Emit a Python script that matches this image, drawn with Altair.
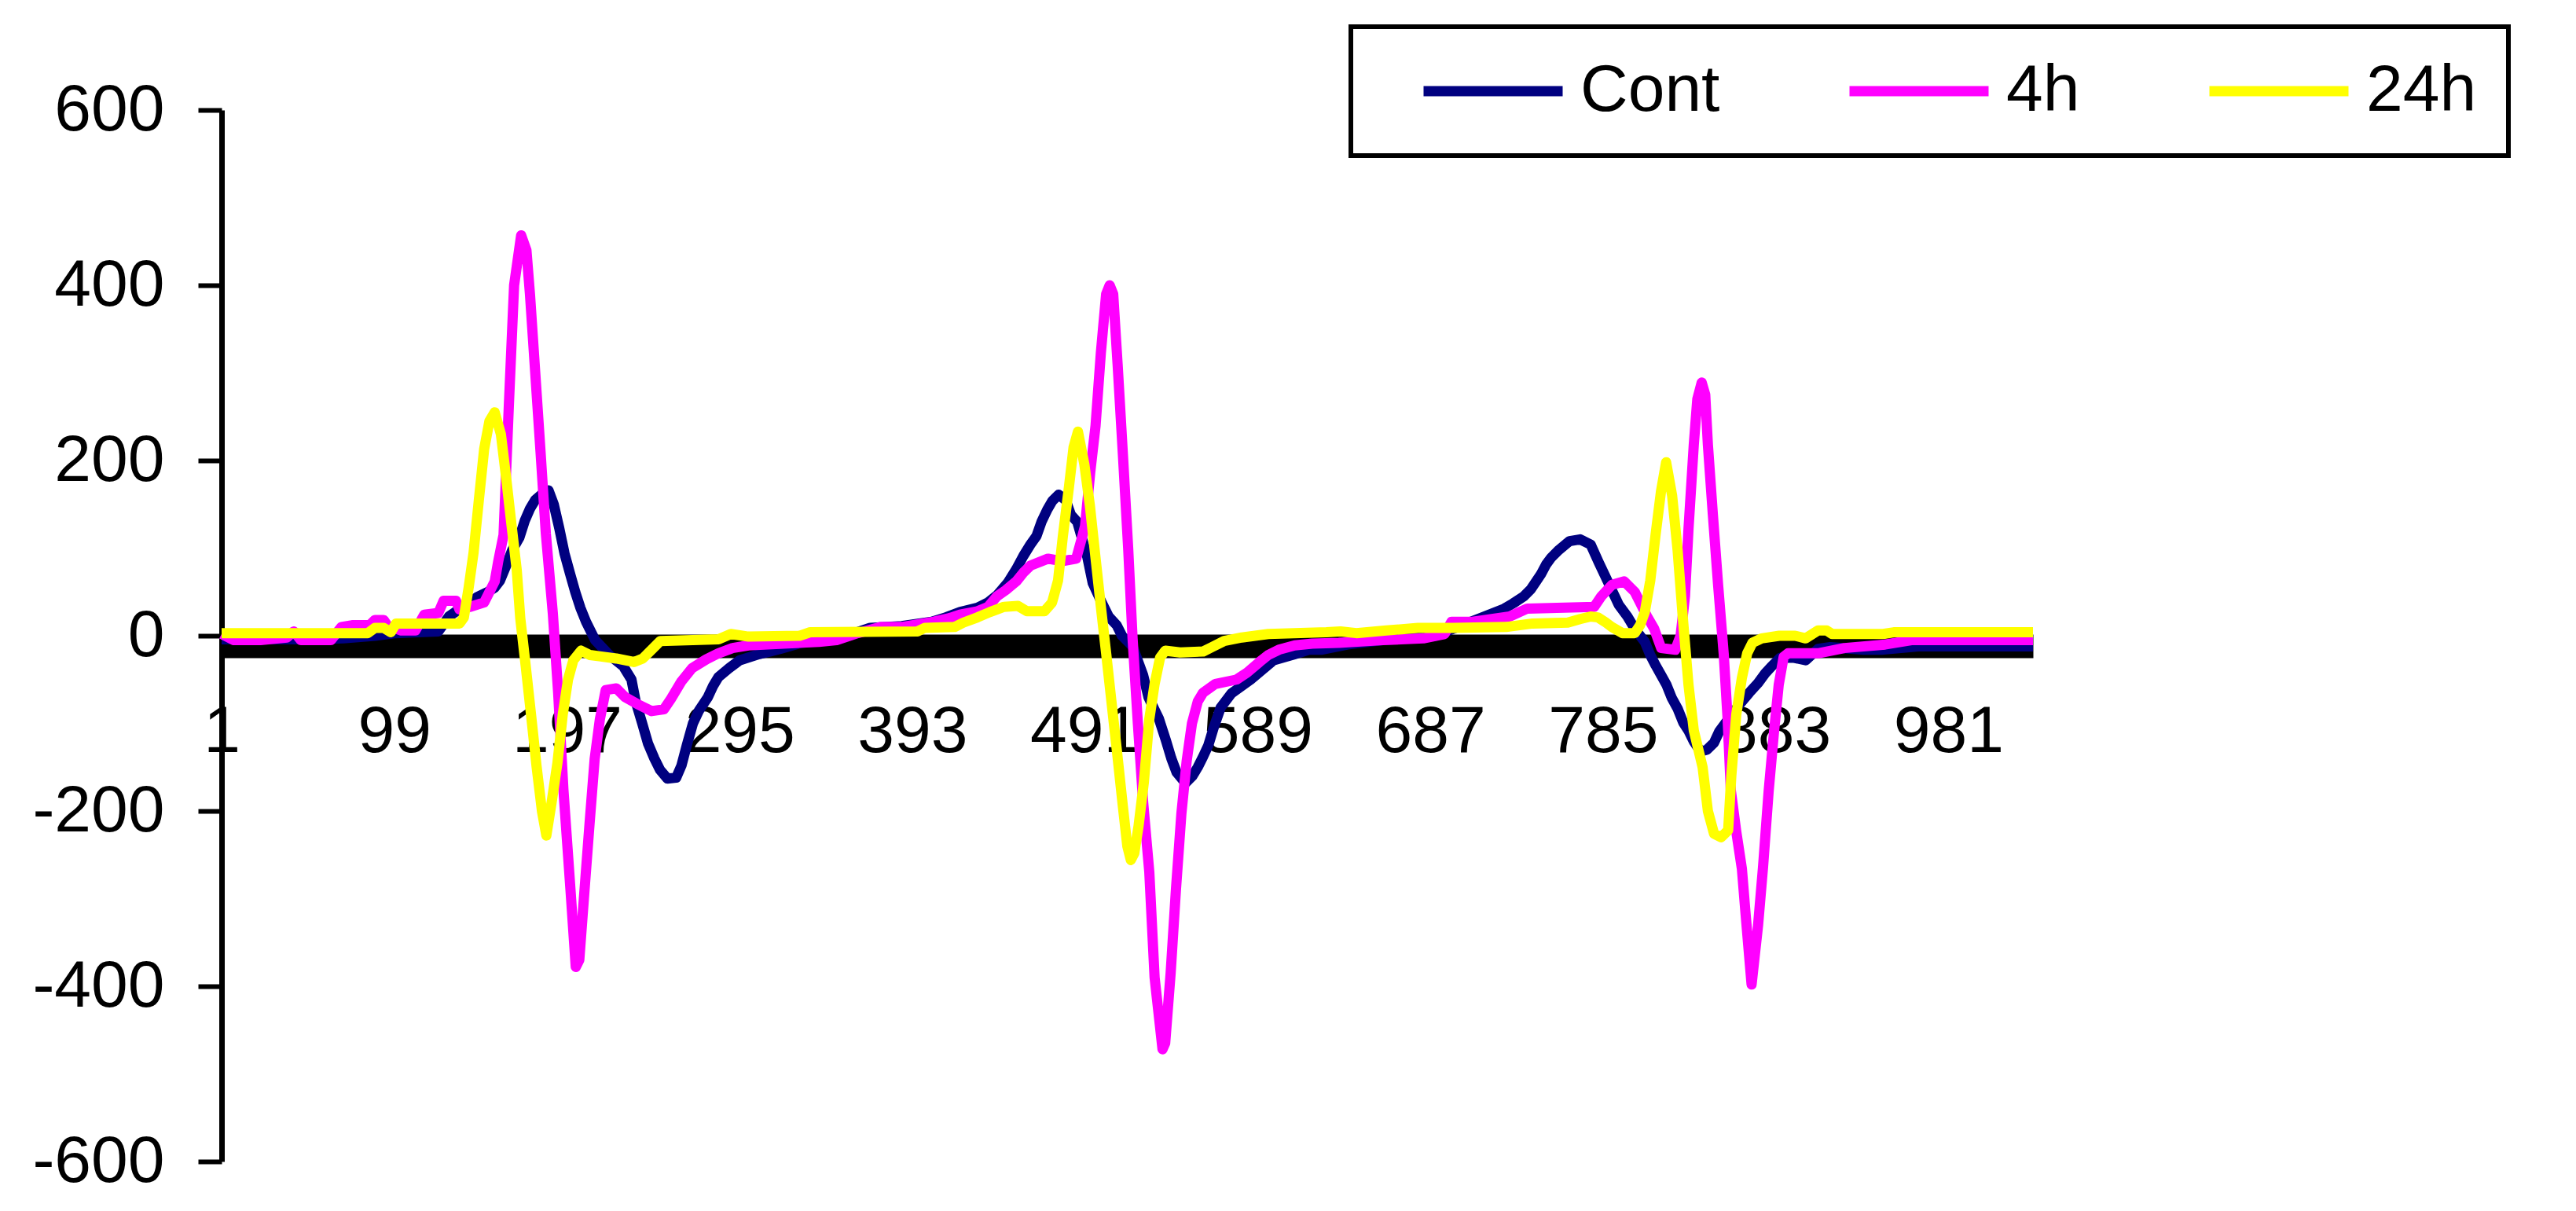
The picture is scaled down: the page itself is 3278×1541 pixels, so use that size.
import altair as alt
import pandas as pd

# ---------------- data ----------------
series_names = ["Cont", "4h", "24h"]
series_colors = ["#000080", "#FF00FF", "#FFFF00"]
x_ticks = [1, 99, 197, 295, 393, 491, 589, 687, 785, 883, 981]
y_ticks = [-600, -400, -200, 0, 200, 400, 600]

cont_x = [1, 25, 38, 53, 70, 88, 100, 112, 124, 130, 138, 146, 152, 156, 159, 162.5, 166, 170, 173, 176,
          179, 183, 186.5, 189.5, 192.6, 195.6, 198.6, 201.7, 204.6, 207.8, 213, 221, 229, 233.6, 236,
          239.7, 243, 246.6, 249.8, 254, 259, 262, 265, 268.5, 272, 277, 280, 283, 289, 295, 306, 312,
          318, 330, 350, 369, 387, 404, 412, 420, 430, 436, 441, 447, 452, 456, 460, 463.5, 466.3, 469.6,
          472.5, 476, 480, 483, 486.6, 492.3, 495.4, 500, 504.4, 509, 512, 518, 524, 527, 533, 537, 540,
          543, 548, 552, 555, 558, 561, 564, 568, 574, 585, 598, 610, 618, 625, 640, 660, 690, 705,
          716.5, 729, 734, 740, 744, 747, 749.7, 752.6, 755.5, 760, 766, 772, 778, 782.7, 786, 790, 794,
          798.8, 803, 808.7, 811.8, 814.9, 818, 821, 824, 827.3, 830.5, 833.7, 836.6, 840.3, 844, 848,
          851, 858, 863, 868, 873, 877, 880.6, 885.6, 893, 900, 907, 914, 933, 943, 965, 1000, 1029]
cont_y = [-4, -4, -4, -4, -3, 0, 3, 4, 5, 22, 33, 44, 50, 55, 63, 80, 98, 112, 131, 145,
          155, 162, 166, 150, 123, 94, 72, 50, 32, 16, -5, -22, -35, -50, -75,
          -100, -123, -140, -153, -163, -162, -148, -125, -100, -85, -70, -57, -47, -37, -28, -21, -18,
          -15, -8, -4, 9, 11, 16, 21, 27, 32, 38, 46, 60, 76, 91, 104, 114, 130, 144,
          154, 161, 155, 138, 130, 90, 60, 40, 22, 12, 0, -12, -45, -70, -95, -120, -140,
          -156, -168, -160, -150, -138, -125, -105, -82, -66, -50, -28, -21, -16, -16, -10, -5, 0, 12,
          21, 31, 37, 45, 53, 62, 70, 81, 89, 98, 108, 110, 104, 83, 69, 52, 35,
          22, 8, -7, -22, -34, -45, -56, -71, -83, -99, -109, -121, -132, -130, -122,
          -109, -90, -77, -65, -54, -43, -35, -25, -25, -28, -15, -13, -16, -16, -12, -12, -12]

h4_x = [1, 8, 23, 38, 42, 46, 63, 69, 75, 81, 85, 88, 93, 95, 103, 111, 116, 124, 127, 134, 136, 142,
        150, 153, 156, 158, 161, 164, 167, 171, 174, 176, 179, 182, 185, 189, 192, 195, 199, 202, 204,
        206.6, 209.8, 212.7, 215.7, 219, 225, 230, 237, 245, 252, 256, 262, 268, 276, 283, 291, 300,
        320, 340, 350, 362, 375, 387, 405, 414, 420, 430, 436, 441, 446, 452, 456, 460, 470, 478, 486,
        489, 491, 494, 497, 500, 503, 505, 507, 509.5, 512.5, 515.5, 518, 521, 524, 527.5, 530.5, 535,
        536.5, 539.6, 542.6, 545.7, 548.7, 551.7, 555, 558, 565, 577, 583, 590, 595, 601, 610, 620,
        635, 660, 683, 695, 699, 711, 732, 742, 780, 784, 790, 797, 803, 806, 810, 814, 818, 826, 829,
        831.5, 833.5, 836.5, 838.5, 841, 843, 844.5, 847.3, 850.3, 853.5, 855.7, 857.5, 860.5, 863.8,
        866, 869.3, 873, 875.8, 879, 882, 884.7, 887.5, 890, 907, 922, 945, 960, 1000, 1029]
h4_y = [2, -5, -5, -2, 5, -5, -5, 10, 12, 12, 12, 18, 18, 12, 6, 6, 24, 26, 40, 40, 30, 33,
        38, 50, 62, 85, 115, 262, 400, 457, 440, 390, 300, 210, 117, 25, -65, -176, -290, -378, -370,
        -300, -215, -141, -95, -62, -60, -70, -78, -86, -84, -72, -52, -37, -27, -20, -14, -11,
        -9, -7, -5, 3, 10, 10, 16, 20, 24, 28, 33, 45, 52, 62, 72, 80, 88, 85, 88,
        110, 125, 187, 240, 323, 390, 400, 390, 310, 207, 100, -3, -100, -190, -270, -390, -472,
        -465, -385, -290, -203, -143, -100, -75, -65, -55, -50, -42, -30, -22, -16, -11, -9,
        -8, -5, -3, 2, 16, 16, 22, 31, 33, 45, 58, 62, 50, 38, 22, 8, -14, -16, 0,
        45, 122, 218, 270, 289, 275, 218, 139, 58, -21, -95, -176, -222, -266,
        -320, -398, -330, -264, -177, -110, -56, -24, -20, -20, -14, -10, -5, -5, -5]

h24_x = [1, 40, 84, 88, 93, 97, 100, 136, 138.5, 141.2, 144, 147, 150, 153, 156, 159.5, 162.5, 165.5,
         168.5, 170.5, 173.5, 176.5, 179.8, 182.8, 185.3, 188.3, 191.6, 194.6, 197.6, 200.6, 205, 210,
         225, 235, 240, 245, 250, 283, 290, 300, 329, 335, 396, 400, 417, 422, 430, 437, 445, 453, 458,
         468, 472.3, 475.7, 478.4, 481.9, 484.5, 487, 490.6, 493.8, 496.8, 499.9, 503, 506, 509.3,
         512.5, 515, 517, 519, 521.4, 524.4, 527.5, 530.5, 533.6, 536.6, 545, 558, 563, 570, 580, 595,
         628, 636, 645, 662, 680, 700, 730, 745, 765, 772, 778, 782, 786, 790, 796, 803, 806, 808.7,
         811.8, 814.8, 817.9, 820.8, 824.2, 827.3, 830.3, 833.5, 836.5, 841.5, 844.5, 848, 852, 856,
         857.8, 860.6, 863.8, 866.8, 869.8, 875, 885, 894, 900, 907, 912, 915, 944, 950, 1029]
h24_y = [3, 3, 3, 9, 9, 4, 14, 14, 21, 55, 95, 155, 213, 245, 255, 230, 180, 127,
         75, 20, -33, -88, -150, -200, -228, -190, -145, -90, -50, -28, -17, -22,
         -26, -30, -26, -16, -6, -4, 2, -1, 0, 4, 5, 9, 10, 15, 21, 27, 33, 34, 28,
         28, 38, 63, 113, 170, 215, 233, 196, 148, 92, 35, -20, -75, -135,
         -195, -240, -256, -248, -217, -167, -95, -55, -25, -17, -19, -18, -13, -6, -2, 2,
         4, 5, 3, 6, 9, 9, 10, 14, 15, 19, 22, 21, 16, 10, 3, 3, 12, 27,
         63, 115, 165, 198, 160, 98, 20, -56, -108, -150, -200, -226, -230, -222,
         -160, -90, -48, -20, -8, -3, 0, 0, -3, 6, 6, 2, 2, 4, 4]

# ---------------- build table ----------------
frames = []
for name, xs, ys in [("Cont", cont_x, cont_y), ("4h", h4_x, h4_y), ("24h", h24_x, h24_y)]:
    frames.append(pd.DataFrame({"point": xs, "value": ys, "series": name}))
df = pd.concat(frames, ignore_index=True)

FONT = "Liberation Sans"

x_enc = alt.X(
    "point:Q",
    scale=alt.Scale(domain=[1, 1029], nice=False, zero=False),
    axis=alt.Axis(
        values=x_ticks, ticks=False, tickSize=0, domainWidth=30, domainColor="black",
        offset=-656, labelPadding=68, labelFontSize=84, labelFont=FONT, labelColor="black",
        labelFlush=False, labelOverlap=False, grid=False, title=None, zindex=0,
    ),
)
y_enc = alt.Y(
    "value:Q",
    scale=alt.Scale(domain=[-600, 600], nice=False),
    axis=alt.Axis(
        values=y_ticks, tickSize=30, tickWidth=6, tickColor="black", domainWidth=7,
        domainColor="black", labelPadding=43, labelFontSize=84, labelFont=FONT,
        labelColor="black", labelExpr="'' + datum.value", grid=False, title=None, zindex=0,
    ),
)
color_enc = alt.Color(
    "series:N",
    scale=alt.Scale(domain=series_names, range=series_colors),
    legend=alt.Legend(
        title=None, orient="none", legendX=1437, legendY=-106, direction="horizontal",
        symbolType="stroke", symbolSize=31329, symbolStrokeWidth=13, clipHeight=84,
        symbolOffset=46, labelOffset=16, columnPadding=112, padding=40,
        labelFontSize=84, labelFont=FONT, labelColor="black", labelLimit=500,
        strokeColor="black", fillColor="white",
    ),
)

layers = [
    alt.Chart(df)
    .transform_filter(alt.datum.series == name)
    .mark_line(strokeWidth=13, strokeJoin="round")
    .encode(x=x_enc, y=y_enc, color=color_enc)
    for name in series_names
]

chart = (
    alt.layer(*layers)
    .properties(
        width=2305, height=1338,
        autosize=alt.AutoSizeParams(type="none"),
        padding={"left": 274, "top": 132, "right": 670, "bottom": 50},
        background="white",
    )
    .configure_view(stroke=None)
    .configure_legend(strokeWidth=6)
)

chart.save("out.html", embed_options={"renderer": "svg", "actions": False})
